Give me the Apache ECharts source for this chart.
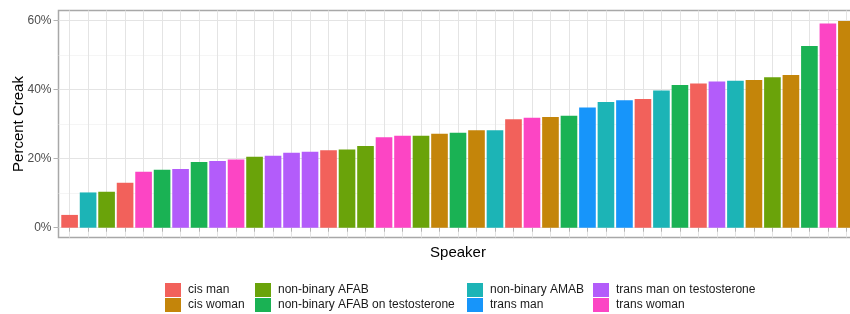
<!DOCTYPE html>
<html>
<head>
<meta charset="utf-8">
<script src="https://cdn.jsdelivr.net/npm/echarts@6/dist/echarts.min.js"></script>
<style>
html, body { margin: 0; padding: 0; background: #fff; }
#chart { width: 850px; height: 314px; }
</style>
</head>
<body>
<div id="chart"></div>
<script>
// groups in legend order
var groups = ['cis man', 'cis woman', 'non-binary AFAB', 'non-binary AFAB on testosterone',
              'non-binary AMAB', 'trans man', 'trans man on testosterone', 'trans woman'];
var groupColors = ['#F2615B', '#C4850A', '#6AA30A', '#1AB254', '#1CB4B6', '#1795FA', '#B35CFA', '#FC45C4'];

// one entry per speaker, sorted by creak
var speakerGroup = [
    'cis man', 'non-binary AMAB', 'non-binary AFAB', 'cis man', 'trans woman',
    'non-binary AFAB on testosterone', 'trans man on testosterone', 'non-binary AFAB on testosterone',
    'trans man on testosterone', 'trans woman', 'non-binary AFAB', 'trans man on testosterone',
    'trans man on testosterone', 'trans man on testosterone', 'cis man', 'non-binary AFAB',
    'non-binary AFAB', 'trans woman', 'trans woman', 'non-binary AFAB', 'cis woman',
    'non-binary AFAB on testosterone', 'cis woman', 'non-binary AMAB', 'cis man', 'trans woman',
    'cis woman', 'non-binary AFAB on testosterone', 'trans man', 'non-binary AMAB', 'trans man',
    'cis man', 'non-binary AMAB', 'non-binary AFAB on testosterone', 'cis man',
    'trans man on testosterone', 'non-binary AMAB', 'cis woman', 'non-binary AFAB', 'cis woman',
    'non-binary AFAB on testosterone', 'trans woman', 'cis woman'
];
var creakPct = [
    3.7, 10.2, 10.4, 13.0, 16.2, 16.8, 17.0, 19.0, 19.3, 19.7, 20.5, 20.8, 21.7, 22.0, 22.4,
    22.6, 23.6, 26.2, 26.6, 26.6, 27.2, 27.5, 28.2, 28.2, 31.4, 31.8, 32.0, 32.4, 34.8, 36.4,
    36.9, 37.2, 39.7, 41.3, 41.7, 42.3, 42.5, 42.7, 43.5, 44.2, 52.6, 59.1, 59.8
];
var speakers = creakPct.map(function (v, i) { return 'S' + (i + 1); });
var yTicks = [0, 20, 40, 60];

var font = 'Liberation Sans, Arial, Helvetica, sans-serif';
var chart = echarts.init(document.getElementById('chart'));

var series = groups.map(function (g, k) {
    return {
        name: g,
        type: 'bar',
        xAxisIndex: 1,
        yAxisIndex: 1,
        barWidth: '90%',
        barGap: '-100%',
        itemStyle: { color: groupColors[k] },
        data: creakPct.map(function (v, i) { return speakerGroup[i] === g ? v : '-'; })
    };
});

var legends = [0, 1, 2, 3].map(function (c) {
    return {
        orient: 'vertical',
        left: [165, 255, 467, 593][c],
        top: 283,
        padding: 0,
        itemWidth: 16,
        itemHeight: 14,
        itemGap: 1,
        icon: 'rect',
        selectedMode: false,
        data: [groups[2 * c], groups[2 * c + 1]],
        textStyle: { fontFamily: font, fontSize: 12, color: '#1a1a1a', padding: [0, 0, 0, 2] }
    };
});

chart.setOption({
    animation: false,
    color: groupColors,
    legend: legends,
    grid: [
        // panel border
        { left: 58.5, right: -7.5, top: 10.5, bottom: 76.5, outerBoundsMode: 'none', show: true, borderColor: '#a8a8a8', borderWidth: 1.5, backgroundColor: '#fff' },
        // bars (ggplot puts 0.6 of a band before the first bar)
        { left: 60.35, right: -5.65, top: 10.5, bottom: 76.5, outerBoundsMode: 'none' },
        // y labels and horizontal grid
        { left: 58.5, right: -7.5, top: 20.3, bottom: 86.3, outerBoundsMode: 'none' }
    ],
    xAxis: [
        { gridIndex: 0, type: 'category', data: speakers, show: false },
        {
            gridIndex: 1, type: 'category', data: speakers,
            name: 'Speaker', nameLocation: 'middle', nameGap: 8,
            nameTextStyle: { fontFamily: font, fontSize: 15, color: '#000' },
            axisLine: { show: false },
            axisTick: { show: true, interval: 0, alignWithLabel: true, length: 4, lineStyle: { color: '#b3b3b3' } },
            axisLabel: { show: false, interval: 0 },
            splitLine: { show: true, interval: 0, alignWithLabel: true, lineStyle: { color: '#e4e4e4', width: 1 } }
        },
        { gridIndex: 2, type: 'category', data: speakers, show: false }
    ],
    yAxis: [
        { gridIndex: 0, type: 'value', show: false },
        { gridIndex: 1, type: 'value', min: -2.835, max: 62.835, show: false },
        {
            gridIndex: 2, type: 'value',
            min: yTicks[0], max: yTicks[yTicks.length - 1], interval: 20,
            name: 'Percent Creak', nameLocation: 'middle', nameGap: 32, nameMoveOverlap: false,
            nameTextStyle: { fontFamily: font, fontSize: 15, color: '#000' },
            axisLine: { show: false },
            axisTick: { show: true, length: 5, lineStyle: { color: '#b3b3b3' } },
            axisLabel: { margin: 7, fontFamily: font, fontSize: 12, color: '#4d4d4d', formatter: '{value}%' },
            splitLine: { show: true, lineStyle: { color: '#e4e4e4', width: 1 } },
            minorTick: { show: false, splitNumber: 2 },
            minorSplitLine: { show: true, lineStyle: { color: '#efefef', width: 0.6 } }
        }
    ],
    series: series
});
</script>
</body>
</html>
